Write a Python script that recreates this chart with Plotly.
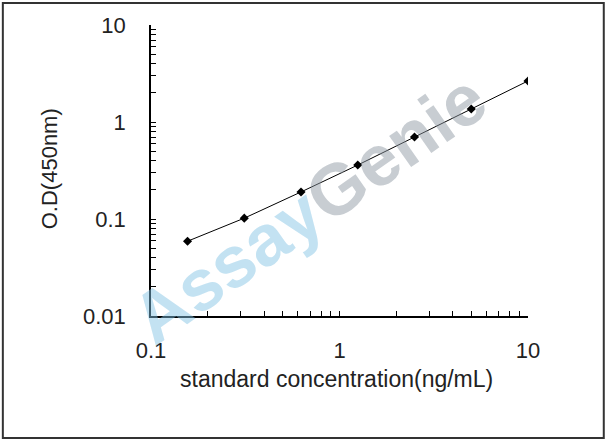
import plotly.graph_objects as go

# standard curve values
concentration = [0.15625, 0.3125, 0.625, 1.25, 2.5, 5, 10]
od_450 = [0.059, 0.102, 0.19, 0.36, 0.70, 1.36, 2.65]

font_family = 'Liberation Sans, Arial, sans-serif'
text_color = '#222222'

fig = go.Figure()
fig.add_trace(go.Scatter(x=concentration, y=od_450, mode='lines+markers',
                         line=dict(color='black', width=1),
                         marker=dict(symbol='diamond', size=7, color='black'),
                         showlegend=False))

axis_common = dict(type='log', showline=True, linecolor='black', linewidth=1.5,
                   tickmode='linear', tick0=0, dtick=1,
                   ticks='inside', ticklen=5, tickcolor='black', tickwidth=1,
                   showgrid=False, zeroline=False, mirror=False,
                   tickfont=dict(family=font_family, size=22, color=text_color),
                   minor=dict(ticks='inside', dtick='D1', ticklen=5,
                              tickcolor='black', tickwidth=1, showgrid=False))

fig.update_xaxes(range=[-1, 1], ticklabelstandoff=14, **axis_common)
fig.update_yaxes(range=[-2, 1], ticklabelstandoff=19, **axis_common)

fig.update_layout(
    width=608, height=441,
    margin=dict(l=151, r=80, t=25, b=125, autoexpand=False),
    plot_bgcolor='white', paper_bgcolor='white',
    font=dict(family=font_family, color=text_color),
    annotations=[
        dict(text='standard concentration(ng/mL)', xref='paper', yref='paper',
             x=0.493, y=-0.216, xanchor='center', yanchor='middle',
             showarrow=False, font=dict(size=23, color=text_color)),
        dict(text='O.D(450nm)', xref='paper', yref='paper',
             x=-0.27, y=0.505, xanchor='center', yanchor='middle',
             textangle=-90, showarrow=False,
             font=dict(size=22, color=text_color)),
        dict(text='<span style="color:rgba(130,195,228,0.48)">Assay</span>'
                  '<span style="color:rgba(140,150,160,0.48)">Genie</span>',
             xref='paper', yref='paper', x=0.42, y=0.37, textangle=-35,
             xanchor='center', yanchor='middle', showarrow=False,
             font=dict(size=72, family=font_family, weight='bold')),
    ],
    shapes=[
        dict(type='rect', xref='paper', yref='paper',
             x0=-0.393, x1=1.201, y0=-0.419, y1=1.076,
             line=dict(color='#333333', width=2)),
    ],
)

# drop the page's default body margin so the figure sits at the window corner
fig.write_html('out.html', config={'displayModeBar': False},
               post_script="document.body.style.margin='0';")
